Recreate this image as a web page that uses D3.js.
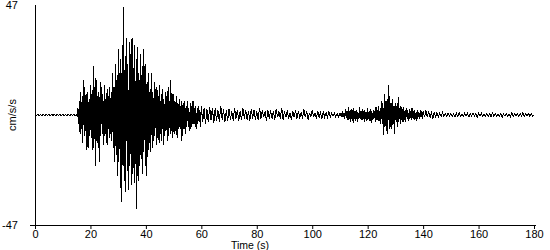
<!DOCTYPE html>
<html>
<head>
<meta charset="utf-8">
<script src="https://cdn.jsdelivr.net/npm/d3@7/dist/d3.min.js"></script>
<style>
  html, body { margin: 0; padding: 0; background: #fff; }
  svg { display: block; }
  text { font-family: "Liberation Sans", Arial, sans-serif; font-size: 11px; fill: #000; }
</style>
</head>
<body>
<svg id="chart" width="550" height="250"></svg>
<script>
// ---- data ----
const xTicks = [0, 20, 40, 60, 80, 100, 120, 140, 160, 180];
const yLimits = [-47, 47];
const yLabel = "cm/s/s";
const xLabel = "Time (s)";

// 0 - 14.5 s, every 0.5 s
const pre = [
  0.3,-0.3,0.3,-0.3,0.3,-0.3,0.3,-0.3,0.3,-0.3,
  0.3,-0.3,0.3,-0.3,0.3,-0.3,0.3,-0.3,0.3,-0.3,
  0.3,-0.3,0.3,-0.3,0.3,-0.3,0.3,-0.3,0.3,-0.3
];
// 15 - 59.75 s, every 0.25 s (one row per second)
const strong = [
  0.3,-0.8,3,-4,
  6,-8,10,-6,
  8,-12,15,-9,
  12,-7,9,-15,
  10,-14,7,-9,
  13,-10,9,-15,
  21,-14,12,-22,
  16,-11,8,-14,
  10,-20,14,-9,
  12,-8,9,-13,
  13,-9,7,-12,
  11,-13,8,-10,
  12,-8,10,-11,
  18,-14,12,-20,
  22,-17,15,-26,
  28,-20,18,-31,
  24,-37,30,-22,
  46,-28,25,-33,
  33,-24,22,-32,
  31,-22,26,-30,
  33,-25,20,-29,
  30,-21,24,-40,
  29,-28,18,-22,
  26,-19,17,-25,
  28,-16,21,-22,
  22,-26,14,-18,
  18,-12,11,-16,
  18,-14,10,-11,
  14,-9,11,-13,
  12,-10,8,-12,
  13,-8,9,-11,
  11,-13,7,-9,
  10,-7,8,-11,
  12,-9,6,-8,
  15,-7,9,-10,
  9,-8,6,-7,
  8,-10,5,-6,
  7,-5,4,-11,
  6,-9,5,-6,
  6,-8,4,-5,
  6,-5,3,-7,
  5,-6,4,-4,
  6,-4,3,-5,
  4,-6,3,-4,
  4,-3,2,-5
];
// 60 - 109.5 s, every 0.5 s
const coda = [
  4,-3,3,-4,2.5,-3,3.5,-2,3,-3.5,
  3,-2.5,2,-3,4,-2,2.5,-3,2,-2.5,
  2.5,-2,1.5,-2.5,3,-1.5,2,-2.5,1.5,-2,
  3,-1.5,2,-2,1.5,-2.5,2.5,-1.5,2,-2,
  1.5,-2,3,-1.5,2,-1,1.5,-2.5,2,-1.5,
  2,-1.5,1.5,-2,2.5,-1,1.5,-1.5,3,-2,
  1.5,-1,2,-1.5,1,-2,1.5,-1,2,-1.5,
  1.5,-1,1,-1.5,2.5,-1,1.5,-2,1,-1,
  2,-1,1,-1.5,1.5,-1,1,-1.5,1.5,-1,
  1,-1,1.5,-0.8,0.8,-0.6,0.7,-0.8,0.6,-0.7
];
// 110 - 139.75 s, every 0.25 s (one row per second)
const secondEvent = [
  0.8,-0.5,0.6,-0.7,
  1.5,-0.8,1,-1.5,
  2.5,-1.2,1.5,-2,
  3.5,-2,1.5,-3,
  2.5,-1.5,2,-3.5,
  3,-1.5,1.5,-2.5,
  2,-3,1.2,-1.8,
  3.5,-1.5,1.5,-2,
  2.5,-2,1.5,-3,
  2,-1.5,1.2,-2.5,
  3,-1.8,1.5,-2.5,
  2.5,-3.5,1.8,-2,
  2,-1.5,1.5,-3,
  3.5,-2,2,-2.5,
  4,-2.5,3,-4,
  6,-4,5,-8.5,
  9,-5,6,-7,
  7,-8,12.8,-6,
  8,-5,5,-6,
  7,-4,4,-8,
  5,-3,4,-5,
  7.7,-3,3,-4,
  4,-2,2.5,-3,
  3.5,-2,2,-3,
  3,-1.5,2,-2.5,
  2.5,-1.5,1.5,-2,
  3,-1.2,1.5,-2,
  2,-1.5,1.2,-2.5,
  2,-1,1.2,-1.5,
  2,-1,1.5,-1.5
];
// 140 - 180 s, every 0.5 s
const tail = [
  1.5,-1,2,-1,1.5,-1,1,-1.5,1,-0.8,
  1,-0.7,0.8,-0.6,1.2,-0.5,0.6,-0.7,0.8,-0.5,
  0.6,-0.6,0.5,-1,0.7,-0.5,1,-0.6,0.5,-0.6,
  0.8,-0.5,0.6,-0.8,0.5,-0.5,1,-0.6,0.5,-0.9,
  0.6,-0.5,0.8,-0.5,0.5,-0.6,0.6,-0.5,0.5,-0.7,
  1,-0.5,0.6,-0.6,0.5,-0.5,0.7,-1,0.5,-0.5,
  0.6,-0.5,0.5,-0.6,1.2,-0.5,0.6,-0.5,0.5,-0.6,
  0.6,-0.5,1,-0.6,0.5,-0.5,0.6,-0.5,0.5,-0.4,
  0
];

const segments = [
  { start: 0,   step: 0.5,  values: pre },
  { start: 15,  step: 0.25, values: strong },
  { start: 60,  step: 0.5,  values: coda },
  { start: 110, step: 0.25, values: secondEvent },
  { start: 140, step: 0.5,  values: tail }
];

// ---- drawing ----
const svg = d3.select("#chart");
const mLeft = 35, mRight = 534, mTop = 5, mBottom = 225;

const x = d3.scaleLinear().domain([0, 180]).range([mLeft, mRight]);
const y = d3.scaleLinear().domain(yLimits).range([mBottom, mTop]);

const points = segments.flatMap(s => s.values.map((v, i) => [s.start + i * s.step, v]));

const line = d3.line().x(d => x(d[0])).y(d => y(d[1]));

svg.append("path")
  .datum(points)
  .attr("d", line)
  .attr("fill", "none")
  .attr("stroke", "#000")
  .attr("stroke-width", 1)
  .attr("shape-rendering", "crispEdges");

// y axis line
svg.append("line")
  .attr("x1", mLeft + 0.5).attr("x2", mLeft + 0.5)
  .attr("y1", mTop).attr("y2", mBottom)
  .attr("stroke", "#000");

// x axis
const xAxis = d3.axisBottom(x).tickValues(xTicks).tickSize(4).tickSizeOuter(0).tickFormat(d3.format("d"));
const gx = svg.append("g").attr("transform", `translate(0,${mBottom})`).call(xAxis);
gx.select(".domain").remove();
gx.selectAll(".tick line").attr("stroke", "#000");
gx.selectAll(".tick text")
  .attr("y", 5)
  .style("font-family", '"Liberation Sans", Arial, sans-serif')
  .style("font-size", "11px")
  .attr("fill", "#000");
svg.append("line")
  .attr("x1", mLeft - 5).attr("x2", mRight + 2)
  .attr("y1", mBottom + 0.5).attr("y2", mBottom + 0.5)
  .attr("stroke", "#000");

// y limit labels
svg.selectAll("text.ylim")
  .data(yLimits)
  .join("text")
  .attr("class", "ylim")
  .attr("x", 18)
  .attr("y", d => y(d) + 4)
  .attr("text-anchor", "end")
  .text(d => d);

// axis titles
svg.append("text")
  .attr("transform", `translate(16,${(mTop + mBottom) / 2}) rotate(-90)`)
  .attr("text-anchor", "middle")
  .text(yLabel);

svg.append("text")
  .attr("x", 250)
  .attr("y", 249)
  .attr("text-anchor", "middle")
  .style("font-size", "10.5px")
  .text(xLabel);
</script>
</body>
</html>
